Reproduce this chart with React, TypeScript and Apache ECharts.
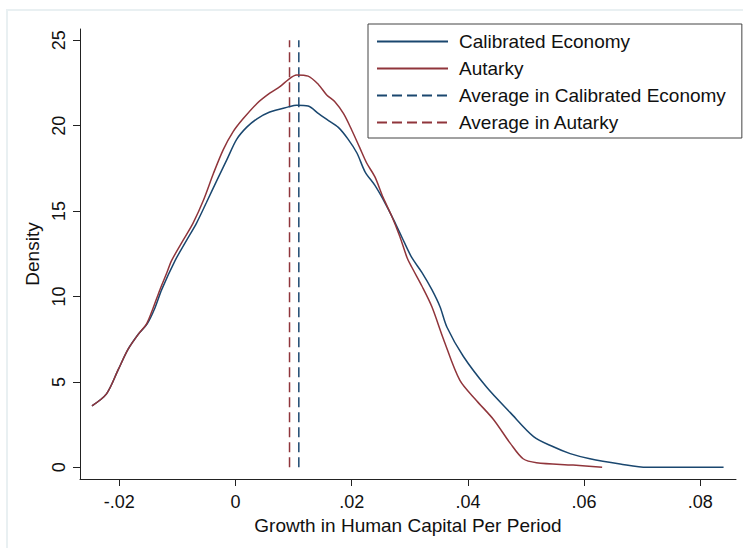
import React, { useEffect, useRef } from "react";
import * as echarts from "echarts";

const calibratedX = [-0.0247, -0.0222, -0.0202, -0.0185, -0.0167, -0.0152, -0.0139, -0.0127, -0.0104, -0.0084, -0.0067, -0.005, -0.0032, -0.0015, 0.0002, 0.0019, 0.0037, 0.0059, 0.0091, 0.0105, 0.0125, 0.0143, 0.016, 0.0177, 0.0194, 0.0209, 0.0223, 0.024, 0.0257, 0.0272, 0.0286, 0.0303, 0.0321, 0.0338, 0.0352, 0.0364, 0.0392, 0.0432, 0.0473, 0.0513, 0.0547, 0.0576, 0.061, 0.0662, 0.0708, 0.084];
const calibratedY = [3.6, 4.3, 5.7, 6.9, 7.8, 8.4, 9.3, 10.4, 12.1, 13.3, 14.3, 15.5, 16.8, 18.0, 19.2, 19.9, 20.4, 20.8, 21.1, 21.2, 21.15, 20.7, 20.3, 19.9, 19.2, 18.4, 17.3, 16.5, 15.5, 14.5, 13.5, 12.3, 11.4, 10.4, 9.4, 8.2, 6.5, 4.7, 3.2, 1.8, 1.2, 0.8, 0.5, 0.2, 0.0, 0.0];
const autarkyX = [-0.0247, -0.0222, -0.0202, -0.0185, -0.0167, -0.0153, -0.0142, -0.013, -0.0118, -0.011, -0.009, -0.0073, -0.0055, -0.0038, -0.0021, -0.0004, 0.0013, 0.0037, 0.0059, 0.0077, 0.0091, 0.0105, 0.0125, 0.0143, 0.0157, 0.0171, 0.0186, 0.02, 0.0214, 0.0226, 0.024, 0.0254, 0.0269, 0.0283, 0.0295, 0.0303, 0.0321, 0.0338, 0.0358, 0.0386, 0.0415, 0.0444, 0.0473, 0.0495, 0.0518, 0.0581, 0.0631];
const autarkyY = [3.6, 4.3, 5.7, 6.9, 7.8, 8.4, 9.3, 10.4, 11.4, 12.1, 13.3, 14.3, 15.65, 17.2, 18.6, 19.65, 20.4, 21.3, 21.9, 22.3, 22.7, 22.97, 22.9, 22.4, 21.8, 21.4, 20.7, 19.75, 18.7, 17.8, 17.0, 15.8, 14.7, 13.5, 12.3, 11.74, 10.6, 9.4, 7.5, 5.1, 3.9, 2.8, 1.4, 0.5, 0.27, 0.13, 0.0];
const meanCalibrated = 0.0109;
const meanAutarky = 0.0093;
const meanLineSpan = [0, 25];
const xTicks = [-0.02, 0, 0.02, 0.04, 0.06, 0.08];
const yTicks = [0, 5, 10, 15, 20, 25];
const seriesNames = ["Calibrated Economy", "Autarky", "Average in Calibrated Economy", "Average in Autarky"];

const NAVY = "#1a476f";
const MAROON = "#90353b";
const FONT = "Liberation Sans, Arial, sans-serif";

const fmtX = (v: number) => {
  if (Math.abs(v) < 1e-12) return "0";
  const s = Math.abs(v).toFixed(2).replace(/^0/, "");
  return (v < 0 ? "-" : "") + s;
};

export default function App() {
  const ref = useRef<HTMLDivElement>(null);
  useEffect(() => {
    if (!ref.current) return;
    const chart = echarts.init(ref.current, undefined, { renderer: "svg" });
    const zip = (xs: number[], ys: number[]) => xs.map((x, i) => [x, ys[i]]);
    chart.setOption({
      animation: false,
      backgroundColor: "#ffffff",
      textStyle: { fontFamily: FONT },
      graphic: [
        {
          type: "rect",
          shape: { x: 7, y: 10, width: 800, height: 600 },
          style: { fill: "none", stroke: "#e9f0f2", lineWidth: 2 },
          silent: true,
          z: -10,
        },
      ],
      grid: { left: 80, right: 7, top: 29, bottom: 69, containLabel: false },
      legend: {
        orient: "vertical",
        left: 368,
        top: 24,
        data: seriesNames,
        itemWidth: 71,
        itemHeight: 14,
        itemGap: 8,
        padding: [8, 16, 6, 8],
        backgroundColor: "#ffffff",
        borderColor: "#444444",
        borderWidth: 1,
        borderRadius: 0,
        itemStyle: { opacity: 0 },
        textStyle: {
          fontFamily: FONT,
          fontSize: 19,
          lineHeight: 19,
          color: "#111111",
          padding: [0, 0, 0, 6],
        },
      },
      xAxis: {
        type: "value",
        min: -0.02676,
        max: 0.08614,
        name: "Growth in Human Capital Per Period",
        nameLocation: "middle",
        nameGap: 30,
        nameTextStyle: { fontFamily: FONT, fontSize: 19, color: "#111111" },
        splitLine: { show: false },
        axisLine: { show: true, onZero: false, lineStyle: { color: "#222222", width: 1 } },
        axisTick: { show: true, length: 7, customValues: xTicks, lineStyle: { color: "#222222" } },
        axisLabel: {
          customValues: xTicks,
          formatter: fmtX,
          fontFamily: FONT,
          fontSize: 18,
          color: "#111111",
          margin: 14,
        },
      },
      yAxis: {
        type: "value",
        min: -0.685,
        max: 25.66,
        name: "Density",
        nameLocation: "middle",
        nameGap: 30,
        nameRotate: 90,
        nameTextStyle: { fontFamily: FONT, fontSize: 19, color: "#111111" },
        splitLine: { show: false },
        axisLine: { show: true, onZero: false, lineStyle: { color: "#222222", width: 1 } },
        axisTick: { show: true, length: 7, customValues: yTicks, lineStyle: { color: "#222222" } },
        axisLabel: {
          customValues: yTicks,
          rotate: 90,
          fontFamily: FONT,
          fontSize: 18,
          color: "#111111",
          margin: 12,
        },
      },
      series: [
        {
          name: seriesNames[0],
          type: "line",
          data: zip(calibratedX, calibratedY),
          symbol: "none",
          smooth: 0.3,
          lineStyle: { color: NAVY, width: 1.5 },
          itemStyle: { color: NAVY },
          z: 3,
        },
        {
          name: seriesNames[1],
          type: "line",
          data: zip(autarkyX, autarkyY),
          symbol: "none",
          smooth: 0.3,
          lineStyle: { color: MAROON, width: 1.5 },
          itemStyle: { color: MAROON },
          z: 3,
        },
        {
          name: seriesNames[2],
          type: "line",
          data: meanLineSpan.map((y) => [meanCalibrated, y]),
          symbol: "none",
          lineStyle: { color: NAVY, width: 1.5, type: [10, 5] },
          itemStyle: { color: NAVY },
          z: 2,
        },
        {
          name: seriesNames[3],
          type: "line",
          data: meanLineSpan.map((y) => [meanAutarky, y]),
          symbol: "none",
          lineStyle: { color: MAROON, width: 1.5, type: [10, 5] },
          itemStyle: { color: MAROON },
          z: 2,
        },
      ],
    });
    return () => chart.dispose();
  }, []);
  return (
    <div
      ref={ref}
      style={{ position: "absolute", left: 0, top: 0, width: 743, height: 548 }}
    />
  );
}
